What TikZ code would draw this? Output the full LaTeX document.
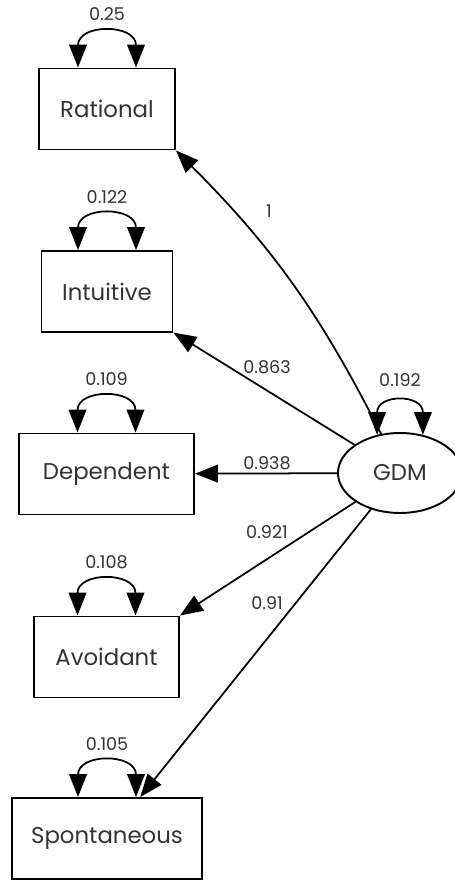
\documentclass[tikz,border=0pt]{standalone}
\usepackage{fontspec}
\setmainfont{Poppins}
\usetikzlibrary{shapes.geometric, arrows.meta}
\tikzstyle{diagram} = [x = 0.02cm, y = 0.02cm]
\definecolor{textColor}{RGB}{51,51,51}
\tikzstyle{observedStyle} = [draw, rectangle, line width = 1.1pt, minimum height = 1.62cm, inner sep = 0pt, font = \fontsize{13}{15}\selectfont, text = textColor]
\tikzstyle{latentStyle} = [draw, ellipse, line width = 1.1pt, minimum width = 2.48cm, minimum height = 1.6cm, inner sep = 0pt, font = \fontsize{13}{15}\selectfont, text = textColor]
\tikzstyle{loadingArrow} = [line width = 1pt, -{Triangle[length = 13pt, width = 10pt]}]
\tikzstyle{varianceArrow} = [line width = 1pt, {Triangle[length = 13pt, width = 10pt]}-{Triangle[length = 13pt, width = 10pt]}]
\tikzstyle{estimateText} = [font = \fontsize{10}{12}\selectfont, text = textColor]
\newcommand{\varianceLoop}[2]{\draw [varianceArrow] ([xshift = -.58cm]#1.north) to [out = 90, in = 90, looseness = 1.95] node [estimateText, midway, above = 4pt] {#2} ([xshift = .58cm]#1.north);}

\begin{document}
\begin{tikzpicture}[diagram]
        \useasboundingbox (0,0) rectangle (455,880);
        \node [observedStyle, minimum width = 2.72cm] (rat) at (107,771) {Rational};
        \node [observedStyle, minimum width = 2.62cm] (int) at (107,588.5) {Intuitive};
        \node [observedStyle, minimum width = 3.5cm] (dep) at (106.5,406) {Dependent};
        \node [observedStyle, minimum width = 2.9cm] (avo) at (106.5,223) {Avoidant};
        \node [observedStyle, minimum width = 3.8cm] (spo) at (107,41.5) {Spontaneous};
        \node [latentStyle] (gdm) at (400,407) {GDM};

        \varianceLoop{rat}{0.25}
        \varianceLoop{int}{0.122}
        \varianceLoop{dep}{0.109}
        \varianceLoop{avo}{0.108}
        \varianceLoop{spo}{0.105}
        \draw [varianceArrow] (gdm.121) to [out = 90, in = 90, looseness = 2.3] node [estimateText, midway, above = 6pt] {0.192} (gdm.59);

        \draw [loadingArrow] (gdm) to [bend right = 9] (rat.south east);
        \draw [loadingArrow] (gdm) -- (int);
        \draw [loadingArrow] (gdm) -- (dep);
        \draw [loadingArrow] (gdm) -- (avo.north east);
        \draw [loadingArrow] (gdm) -- (spo);

        \node [estimateText] (l1) at (269,669) {1};
        \node [estimateText] (l2) at (267,513) {0.863};
        \node [estimateText] (l3) at (267,417) {0.938};
        \node [estimateText] (l4) at (267,348) {0.921};
        \node [estimateText] (l5) at (267,277) {0.91};
      \end{tikzpicture}
\end{document}
